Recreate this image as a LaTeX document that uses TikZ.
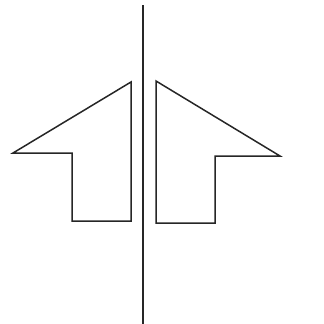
\documentclass[tikz,border=0pt]{standalone}
\usepackage{tikz}
\usetikzlibrary{positioning}

\begin{document}
\begin{tikzpicture}[x=1pt, y=-1pt, line join=miter]
\tikzset{outline/.style={draw=black!85, line width=1.5pt}}
\useasboundingbox (0,0) rectangle (324,324);
\draw[outline] (143,5) -- (143,324);
% left arrow
\draw[outline] (131,82) -- (131,221) -- (72,221) -- (72,153) -- (13,153) -- cycle;
% right arrow
\draw[outline] (156,81) -- (280,156) -- (215,156) -- (215,223) -- (156,223) -- cycle;
\end{tikzpicture}
\end{document}
